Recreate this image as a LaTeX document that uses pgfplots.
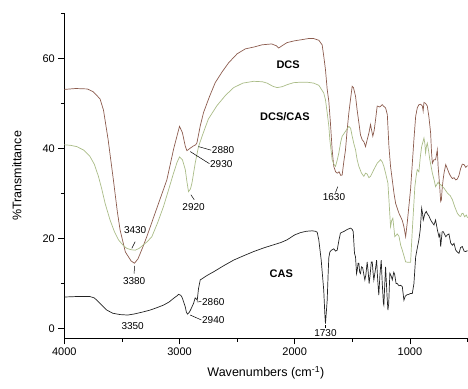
\documentclass[border=0pt]{standalone}
\usepackage{fontspec}
\setmainfont{Liberation Sans}
\usepackage{pgfplots}
\usepackage{pgfplotstable}
\pgfplotsset{compat=1.18}
\definecolor{dcs}{RGB}{140,92,78}
\definecolor{mix}{RGB}{170,188,135}
\definecolor{cas}{RGB}{35,35,35}

\pgfplotstableread{
wn T
4000 53.1
3900 53.3
3800 53.2
3750 52.6
3690 51.0
3660 48.5
3620 42
3574 33
3540 26
3516 21.9
3470 17
3420 15
3391 14.5
3360 15.5
3320 18
3284 20.4
3200 26.5
3110 33
3050 40
3000 44.9
2975 43.5
2950 40.5
2936 39.5
2910 40.0
2882 40.5
2860 40.8
2849 41.2
2820 45
2791 48
2740 51.5
2690 54.6
2630 57
2574 59
2500 61
2429 62.1
2356 62.5
2284 63.0
2200 63.2
2160 62.8
2139 62.3
2110 62.8
2066 63.5
2000 63.9
1950 64.1
1880 64.4
1835 64.4
1790 64.0
1762 63.0
1748 60.5
1733 57.5
1718 53.1
1704 50.5
1690 45.7
1675 39.7
1661 36
1645 34.8
1631 34.5
1615 34.8
1600 34.0
1588 34.1
1574 37
1559 39.7
1545 44
1530 47.9
1515 51
1501 53.8
1490 53.5
1472 51.6
1458 48.5
1443 45.7
1429 43
1414 41.9
1400 41.5
1385 40.4
1370 42
1356 43.4
1342 45.3
1332 44
1322 42.7
1310 44
1298 46.4
1284 49.4
1262 49.2
1240 49.7
1225 49.3
1211 49.0
1196 47.5
1182 40.4
1168 36
1153 33
1138 30
1124 27.8
1095 25.6
1066 24
1052 22.6
1037 20.4
1023 23.5
1009 27.1
994 31
979 36.7
965 42
950 47.1
936 49
922 49.7
907 49.8
892 49.4
885 48.3
878 50.2
864 50
849 49.4
835 47
820 43.4
812 39
805 36.7
791 37.5
777 37.5
770 38.5
762 39.7
755 36
748 33.8
740 31
733 28.2
727 28.5
720 31
712 33
704 34.5
689 36.4
675 35.5
660 34.5
646 33.8
631 33.3
617 33.5
602 33.0
588 33.2
574 34
560 35.5
545 36.5
530 36.4
515 35.8
500 36.2
}\dcstable

\pgfplotstableread{
wn T
4000 40.8
3950 40.7
3892 40.4
3830 39.6
3777 38.2
3740 36.5
3704 33.8
3675 31
3646 27.8
3603 24.1
3565 21.5
3530 19.7
3490 18.5
3458 17.8
3420 17.5
3385 17.4
3350 17.8
3313 18.6
3280 19.3
3240 20.4
3190 23.5
3139 27.1
3095 30.8
3052 34.5
3020 37
3000 38.1
2975 37.5
2950 35.3
2935 32.5
2922 30.4
2905 31
2892 32.3
2864 36.7
2835 40.4
2800 43
2750 46.5
2675 49.5
2600 51.8
2530 53.5
2450 54.5
2356 54.9
2280 54.8
2240 54.5
2190 53.8
2153 53.5
2110 53.7
2060 54.2
2009 54.6
1950 54.7
1892 54.7
1835 54.5
1790 54.0
1765 53.0
1748 52.3
1733 50.8
1718 47.9
1704 45
1695 41.9
1675 37.5
1660 36.5
1646 36
1630 37.5
1617 39
1600 41.5
1588 42.7
1559 43.8
1530 44.9
1515 44.5
1501 42.7
1486 41
1472 39.7
1458 37.5
1443 36
1420 34.5
1400 33.8
1385 34.5
1371 34.3
1356 33.5
1342 33.8
1313 35.3
1284 36.7
1255 37.5
1240 37.0
1226 36
1211 34.5
1191 32.3
1182 28.6
1168 22.6
1158 24
1148 24.5
1131 20.4
1110 21
1095 20.5
1080 18.5
1066 17.4
1050 16
1037 14.8
1015 14.7
994 14.7
979 21.9
957 31.5
945 34
936 35.3
922 34.8
910 38
898 40.4
878 42.3
870 41
864 39
856 40.5
849 41.2
838 39.5
827 37.5
805 34.5
790 33
777 31.5
755 32.5
740 31.8
733 32
718 31.5
704 31.2
675 30.1
650 29.5
631 28.6
610 27
588 25.6
570 25
559 24.9
550 25.5
539 25.6
525 24.8
510 25.2
500 24.6
}\mixtable

\pgfplotstableread{
wn T
4000 7.0
3900 7.1
3777 7.1
3740 6.8
3718 6.3
3680 5.3
3631 4.1
3580 3.4
3516 3.1
3450 3.0
3400 3.2
3330 3.6
3255 4.1
3200 4.6
3139 5.2
3090 5.9
3052 6.7
3020 7.3
3009 7.6
2990 7.4
2979 7.0
2965 6.0
2950 4.8
2940 3.6
2930 3.2
2915 3.6
2901 4.3
2878 5.6
2864 6.8
2855 6.6
2846 6.3
2835 8.9
2820 10.8
2760 11.8
2704 12.6
2620 13.9
2530 15.2
2440 16.2
2356 17.1
2270 17.9
2183 18.6
2120 19.1
2066 19.7
2000 20.8
1950 21.3
1900 21.6
1849 21.7
1820 21.6
1805 21.4
1791 19.7
1770 15.2
1748 8.5
1738 3
1733 1.1
1726 3.5
1718 6.3
1710 12
1704 15.7
1695 17.0
1681 17.4
1661 17.7
1645 17.2
1631 17.4
1617 19.5
1603 21.2
1570 21.6
1544 22
1515 22.3
1500 22.0
1492 21.5
1481 16.7
1472 15.9
1463 12.2
1457 13
1450 14.5
1443 14.5
1436 12.5
1429 12.2
1420 13.7
1410 13.5
1400 12
1391 10.8
1382 12
1371 14.8
1362 12.5
1354 10
1345 12
1335 14.8
1327 14.8
1320 12.5
1313 10.8
1300 13
1289 15.2
1280 11
1270 7.4
1260 12
1249 15.2
1240 10
1230 5.6
1226 5.2
1218 10
1211 13.7
1200 8
1191 4.1
1184 5.5
1174 12.3
1160 11.5
1153 10.8
1140 12.5
1132 12.0
1120 10
1110 10
1095 9.5
1080 9.6
1066 9.3
1052 6.3
1040 7.2
1025 7.5
1009 7.6
995 7.8
979 7.8
965 10
950 15.9
935 18
922 19.7
910 22
898 26.7
890 25.5
884 24.1
870 25.5
858 26
849 25.5
835 25
820 24.1
805 23.5
791 23
777 24.1
762 22
748 20.4
740 21
733 18.2
727 19.7
720 21.5
710 21.5
700 21
689 20.4
675 20.8
661 21
646 19
631 18.5
617 18.9
602 17.4
588 17
574 16.7
560 18
545 18.2
530 17.2
516 17.1
500 17.3
}\castable

\begin{document}
\begin{tikzpicture}
\begin{axis}[
  name=ax,
  scale only axis,
  width=403pt, height=325pt,
  x dir=reverse,
  xmin=500, xmax=4000,
  ymin=-2.2, ymax=70,
  axis lines*=left,
  axis line style={line width=0.9pt},
  tick align=outside,
  major tick length=6pt,
  minor tick length=3.5pt,
  every tick/.style={black, line width=0.8pt},
  xtick={1000,2000,3000,4000},
  minor xtick={500,1500,2500,3500},
  ytick={0,20,40,60},
  minor ytick={10,30,50,70},
  /pgf/number format/assume math mode=true,
  /pgf/number format/set thousands separator={},
  tick label style={font=\fontsize{11}{12}\selectfont},
  every axis x label/.style={at={(axis description cs:0.5,0)}, anchor=center, yshift=-34.5pt},
  every axis y label/.style={at={(axis description cs:-0.1174,0.5)}, anchor=center, rotate=90},
  label style={font=\fontsize{12.5}{14}\selectfont},
  xlabel={Wavenumbers (cm\textsuperscript{-1})},
  ylabel={\%Transmittance},
  clip=false,
]
\addplot[dcs, line width=0.7pt] table[x=wn,y=T] {\dcstable};
\addplot[mix, line width=0.7pt] table[x=wn,y=T] {\mixtable};
\addplot[cas, line width=0.7pt] table[x=wn,y=T] {\castable};

\begin{scope}[every node/.style={font=\fontsize{11}{12}\selectfont\bfseries, text=black}]
\node at (axis cs:2057,58.6) {DCS};
\node at (axis cs:2085,47.1) {DCS/CAS};
\node at (axis cs:2116,12.1) {CAS};
\end{scope}

\begin{scope}[every node/.style={font=\fontsize{10}{11}\selectfont, text=black, inner sep=0pt}]
\draw[line width=0.5pt] (axis cs:2835,40.4) -- (axis cs:2725,39.6);
\node[anchor=west] at (axis cs:2720,39.7) {2880};
\draw[line width=0.5pt] (axis cs:2907,39.3) -- (axis cs:2740,36.6);
\node[anchor=west] at (axis cs:2736,36.5) {2930};
\draw[line width=0.5pt] (axis cs:2901,29.7) -- (axis cs:2872,28.6);
\node at (axis cs:2878,27.0) {2920};
\draw[line width=0.5pt] (axis cs:3385,19.3) -- (axis cs:3414,17.8);
\node at (axis cs:3385,21.9) {3430};
\draw[line width=0.5pt] (axis cs:3391,13.9) -- (axis cs:3394,12.2);
\node at (axis cs:3394,10.6) {3380};
\node at (axis cs:3407,0.5) {3350};
\draw[line width=0.5pt] (axis cs:2849,5.9) -- (axis cs:2810,6.0);
\node[anchor=west] at (axis cs:2805,5.9) {2860};
\draw[line width=0.5pt] (axis cs:2907,3.0) -- (axis cs:2810,1.9);
\node[anchor=west] at (axis cs:2805,1.9) {2940};
\draw[line width=0.5pt] (axis cs:1733,0.8) -- (axis cs:1733,0.1);
\node at (axis cs:1733,-1.1) {1730};
\draw[line width=0.5pt] (axis cs:1626,31.5) -- (axis cs:1646,30.2);
\node at (axis cs:1659,29.2) {1630};
\end{scope}
\end{axis}
\pgfresetboundingbox
\path[use as bounding box] ([shift={(-64.3pt,-50pt)}]ax.south west) rectangle ([shift={(0.5pt,13.3pt)}]ax.north east);
\end{tikzpicture}
\end{document}
